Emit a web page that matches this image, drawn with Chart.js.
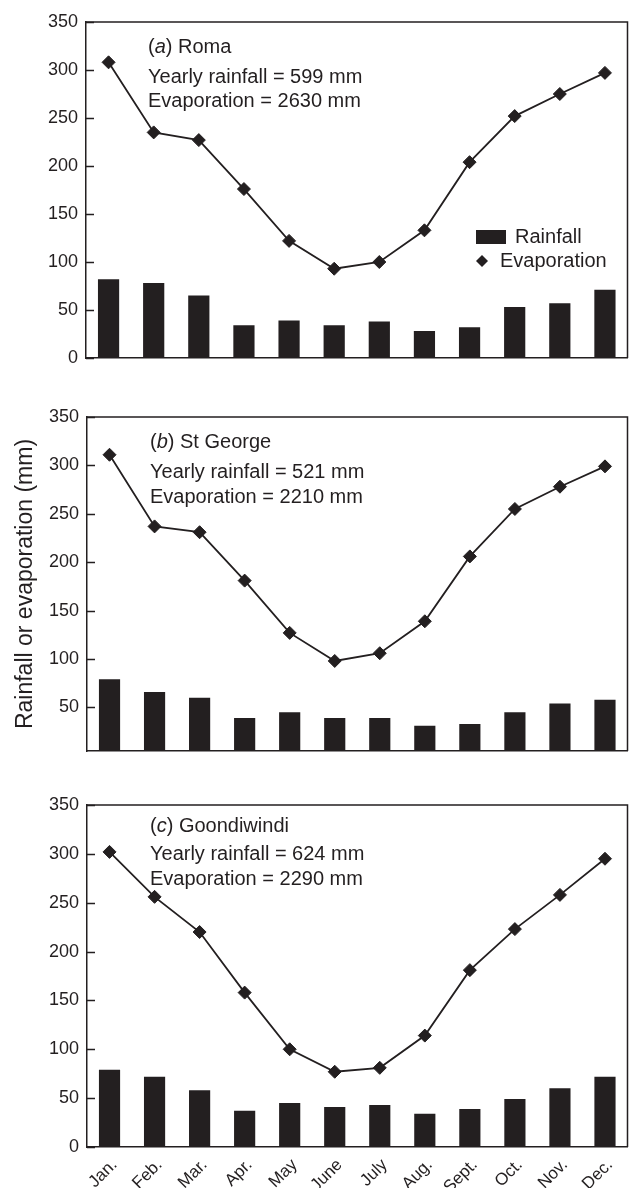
<!DOCTYPE html>
<html><head><meta charset="utf-8">
<script src="https://cdn.jsdelivr.net/npm/chart.js@4.4.1/dist/chart.umd.min.js"></script>
<style>
html,body{margin:0;padding:0;background:#fff;}
#wrap{position:relative;width:635px;height:1188px;overflow:hidden;background:#fff;}
canvas{position:absolute;left:0;}
</style></head><body>
<div id="wrap">
<canvas id="ca" width="635" height="380" style="top:0px"></canvas>
<canvas id="cb" width="635" height="390" style="top:380px"></canvas>
<canvas id="cc" width="635" height="418" style="top:770px"></canvas>
</div>
<script>
const months = ['Jan.','Feb.','Mar.','Apr.','May','June','July','Aug.','Sept.','Oct.','Nov.','Dec.'];
const yTicks = [0,50,100,150,200,250,300,350];

const romaRainfall = [82,78,65,34,39,34,38,28,32,53,57,71];
const romaEvaporation = [308,235,227,176,122,93,100,133,204,252,275,297];
const stGeorgeRainfall = [79,66,60,39,45,39,39,31,33,45,54,58];
const stGeorgeEvaporation = [311,237,231,181,127,98,106,139,206,255,278,299];
const goondiwindiRainfall = [79,72,58,37,45,41,43,34,39,49,60,72];
const goondiwindiEvaporation = [302,256,220,158,100,77,81,114,181,223,258,295];

const panelLetters = ['a','b','c'];
const panelNames = ['Roma','St George','Goondiwindi'];
const yearlyRainfallText = ['Yearly rainfall = 599 mm','Yearly rainfall = 521 mm','Yearly rainfall = 624 mm'];
const evaporationText = ['Evaporation = 2630 mm','Evaporation = 2210 mm','Evaporation = 2290 mm'];
const yAxisTitle = 'Rainfall or evaporation (mm)';

const ink = '#231f20';
const FONT = "'Liberation Sans', Arial, Helvetica, sans-serif";
Chart.defaults.font.family = FONT;
Chart.defaults.color = ink;

const framePlugin = {
  id: 'frame',
  afterDraw(chart) {
    const {ctx, chartArea: ca} = chart;
    ctx.save();
    ctx.strokeStyle = ink;
    ctx.lineWidth = 1.5;
    ctx.beginPath();
    ctx.moveTo(ca.left, ca.top);
    ctx.lineTo(ca.right, ca.top);
    ctx.lineTo(ca.right, ca.bottom);
    ctx.stroke();
    // inward y-axis tick marks from the library's own scale
    const ys = chart.scales.y;
    ctx.beginPath();
    ys.ticks.forEach(t => {
      const py = Math.round(ys.getPixelForValue(t.value)) + 0.5;
      ctx.moveTo(ca.left, py);
      ctx.lineTo(ca.left + 8, py);
    });
    ctx.stroke();
    ctx.restore();
  }
};

function annotationPlugin(i, offs) {
  return {
    id: 'annot' + i,
    afterDraw(chart) {
      const {ctx, chartArea: ca} = chart;
      ctx.save();
      ctx.fillStyle = ink;
      ctx.textBaseline = 'middle';
      ctx.textAlign = 'left';
      let x = ca.left + offs.x;
      const y0 = ca.top + offs.y[0];
      const parts = [['(', false], [panelLetters[i], true], [') ' + panelNames[i], false]];
      for (const [t, it] of parts) {
        ctx.font = (it ? 'italic ' : '') + '20px ' + FONT;
        ctx.fillText(t, x, y0);
        x += ctx.measureText(t).width;
      }
      ctx.font = '20px ' + FONT;
      ctx.fillText(yearlyRainfallText[i], ca.left + offs.x, ca.top + offs.y[1]);
      ctx.fillText(evaporationText[i], ca.left + offs.x, ca.top + offs.y[2]);
      ctx.restore();
    }
  };
}

const legendPlugin = {
  id: 'customLegend',
  afterDraw(chart) {
    const {ctx} = chart;
    const ds = chart.data.datasets;
    ctx.save();
    ctx.fillStyle = ink;
    ctx.font = '20px ' + FONT;
    ctx.textBaseline = 'middle';
    ctx.textAlign = 'left';
    ctx.fillRect(476, 230, 30, 14);
    ctx.fillText(ds[1].label, 515, 237);
    const cx = 482, cy = 261, r = 6;
    ctx.beginPath();
    ctx.moveTo(cx - r, cy); ctx.lineTo(cx, cy - r); ctx.lineTo(cx + r, cy); ctx.lineTo(cx, cy + r);
    ctx.closePath(); ctx.fill();
    ctx.fillText(ds[0].label, 500, 261);
    ctx.restore();
  }
};

function makePanel(id, i, rain, evap, o) {
  const plugins = [framePlugin, annotationPlugin(i, o.annot)];
  if (o.legend) plugins.push(legendPlugin);
  return new Chart(document.getElementById(id), {
    type: 'bar',
    data: {
      labels: months,
      datasets: [
        {type: 'line', label: 'Evaporation', data: evap, borderColor: ink, borderWidth: 1.8,
         pointStyle: 'rectRot', pointRadius: 6.5, pointBackgroundColor: ink, pointBorderColor: ink,
         pointBorderWidth: 1, tension: 0, order: 0, clip: false},
        {type: 'bar', label: 'Rainfall', data: rain, backgroundColor: ink, borderWidth: 0,
         barPercentage: 0.47, categoryPercentage: 1, order: 1}
      ]
    },
    options: {
      responsive: false, animation: false, devicePixelRatio: 1,
      layout: {padding: {top: o.padTop, bottom: o.padBottom, left: 0, right: 3}},
      plugins: {legend: {display: false}, tooltip: {enabled: false}},
      scales: {
        x: {
          grid: {display: false, drawTicks: false},
          border: {color: ink, width: 1.5},
          ticks: {display: o.showX, maxRotation: 45, minRotation: 45, padding: 8, labelOffset: 5, font: {size: 17}, color: ink},
          afterFit(s) { s.height = o.xHeight; }
        },
        y: {
          min: o.min, max: 350,
          afterBuildTicks(s) { s.ticks = yTicks.filter(v => v >= s.min).map(v => ({value: v})); },
          grid: {display: false, drawTicks: false},
          border: {color: ink, width: 1.5},
          ticks: {padding: 8, font: {size: 18}, color: ink},
          title: o.title ? {display: true, text: yAxisTitle, font: {size: 23}, color: ink, padding: {top: 12, bottom: 0}} : {display: false},
          afterFit(s) { s.width = o.left; }
        }
      }
    },
    plugins
  });
}

makePanel('ca', 0, romaRainfall, romaEvaporation,
  {padTop: 22, padBottom: 22, xHeight: 0, showX: false, min: 0, left: 86, legend: true, title: false,
   annot: {x: 62, y: [25, 55, 79]}});
makePanel('cb', 1, stGeorgeRainfall, stGeorgeEvaporation,
  {padTop: 37, padBottom: 19, xHeight: 0, showX: false, min: 5, left: 87, legend: false, title: true,
   annot: {x: 63, y: [25, 55, 80]}});
makePanel('cc', 2, goondiwindiRainfall, goondiwindiEvaporation,
  {padTop: 35, padBottom: 0, xHeight: 41, showX: true, min: 0, left: 87, legend: false, title: false,
   annot: {x: 63, y: [21, 49, 74]}});
</script>
</body></html>
